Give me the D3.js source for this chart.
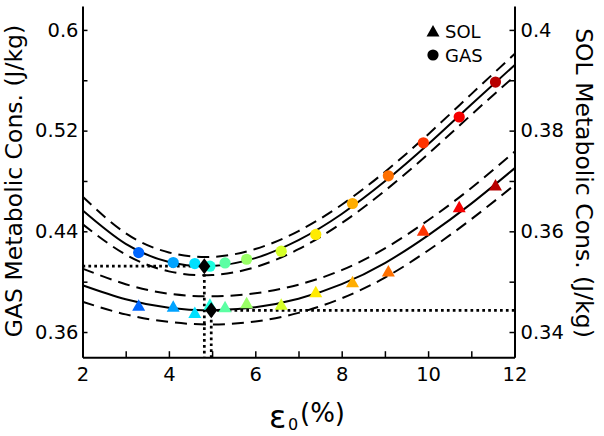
<!DOCTYPE html>
<html>
<head>
<meta charset="utf-8">
<script src="https://cdn.jsdelivr.net/npm/d3@7"></script>
<style>
  body { margin: 0; background: #fff; }
  svg { font-family: "DejaVu Sans", sans-serif; }
</style>
</head>
<body>
<svg id="chart" width="604" height="436"></svg>
<script>
// measured points (tendon strain %, metabolic cost J/kg)
const strain = [3.3, 4.1, 4.6, 4.95, 5.3, 5.8, 6.6, 7.4, 8.25, 9.08, 9.89, 10.72, 11.56];
const gasCost = [0.4231, 0.4152, 0.4144, 0.4123, 0.4149, 0.4178, 0.4242, 0.4375, 0.4621, 0.4841, 0.5103, 0.5308, 0.5586];
const solCost = [0.3453, 0.3451, 0.3439, 0.3455, 0.3450, 0.3458, 0.3455, 0.3480, 0.3500, 0.3521, 0.3602, 0.3649, 0.3692];

// fitted curves and bands
const fitStrain = [2, 3, 4, 5, 6, 7, 8, 9, 10, 11, 12];
const gasFit   = [0.4567, 0.4300, 0.4157, 0.4125, 0.4187, 0.4330, 0.4538, 0.4797, 0.5092, 0.5408, 0.5720];
const gasUpper = [0.4677, 0.4385, 0.4232, 0.4197, 0.4259, 0.4402, 0.4611, 0.4872, 0.5170, 0.5490, 0.5808];
const gasLower = [0.4457, 0.4215, 0.4082, 0.4053, 0.4115, 0.4258, 0.4465, 0.4722, 0.5014, 0.5326, 0.5632];
const solFit   = [0.3493, 0.3465, 0.3448, 0.3443, 0.3449, 0.3466, 0.3495, 0.3537, 0.3592, 0.3655, 0.3725];
const solUpper = [0.3526, 0.3495, 0.3476, 0.3471, 0.3477, 0.3494, 0.3523, 0.3566, 0.3622, 0.3686, 0.3758];
const solLower = [0.3460, 0.3435, 0.3420, 0.3415, 0.3421, 0.3438, 0.3467, 0.3508, 0.3562, 0.3624, 0.3692];

// minima of the fits
const gasMin = [4.82, 0.4123];
const solMin = [4.98, 0.3443];

const xTicks = [2, 4, 6, 8, 10, 12];
const xMinor = [3, 5, 7, 9, 11];
const gasTicks = [0.36, 0.44, 0.52, 0.6];
const gasMinor = [0.40, 0.48, 0.56];
const solTicks = [0.34, 0.36, 0.38, 0.4];
const solMinor = [0.35, 0.37, 0.39];

const plotLeft = 82.5, plotRight = 514.5, plotTop = 6, plotBottom = 357.2;
const svg = d3.select("#chart");

const x = d3.scaleLinear().domain([2, 12]).range([plotLeft, plotRight]);
const yGas = d3.scaleLinear().domain([0.34, 0.619]).range([plotBottom, plotTop]);
const ySol = d3.scaleLinear().domain([0.335, 0.40475]).range([plotBottom, plotTop]);

function jet(t) {
  const c = v => Math.max(0, Math.min(1, v));
  const r = c(1.5 - Math.abs(4 * t - 3));
  const g = c(1.5 - Math.abs(4 * t - 2));
  const b = c(1.5 - Math.abs(4 * t - 1));
  return d3.rgb(r * 255, g * 255, b * 255).toString();
}
const colour = i => jet(0.225 + i * 0.06);

// axes
function styleAxis(g, fontSize) {
  g.select(".domain").attr("stroke", "#000").attr("stroke-width", 2);
  g.selectAll(".tick line").attr("stroke", "#000").attr("stroke-width", 1.5);
  g.selectAll(".tick text").attr("fill", "#000")
    .style("font-size", fontSize + "px").style("font-family", "DejaVu Sans");
}
function minorTicks(g) {
  g.select(".domain").remove();
  g.selectAll(".tick line").attr("stroke", "#000").attr("stroke-width", 1.5);
}

const xAxis = svg.append("g").attr("transform", "translate(0," + plotBottom + ")")
  .call(d3.axisBottom(x).tickValues(xTicks).tickSizeInner(-6).tickSizeOuter(0).tickPadding(10).tickFormat(d3.format("d")));
styleAxis(xAxis, 19.5);
svg.append("g").attr("transform", "translate(0," + plotBottom + ")")
  .call(d3.axisBottom(x).tickValues(xMinor).tickSizeInner(-6).tickSizeOuter(0).tickFormat(""))
  .call(minorTicks);

const yAxisL = svg.append("g").attr("transform", "translate(" + plotLeft + ",0)")
  .call(d3.axisLeft(yGas).tickValues(gasTicks).tickSizeInner(-5).tickSizeOuter(0).tickPadding(4).tickFormat(d => String(d)));
styleAxis(yAxisL, 19.5);
svg.append("g").attr("transform", "translate(" + plotLeft + ",0)")
  .call(d3.axisLeft(yGas).tickValues(gasMinor).tickSizeInner(-5).tickSizeOuter(0).tickFormat(""))
  .call(minorTicks);

const yAxisR = svg.append("g").attr("transform", "translate(" + plotRight + ",0)")
  .call(d3.axisRight(ySol).tickValues(solTicks).tickSizeInner(-5).tickSizeOuter(0).tickPadding(6).tickFormat(d => String(d)));
styleAxis(yAxisR, 19.5);
svg.append("g").attr("transform", "translate(" + plotRight + ",0)")
  .call(d3.axisRight(ySol).tickValues(solMinor).tickSizeInner(-5).tickSizeOuter(0).tickFormat(""))
  .call(minorTicks);

// axis titles
svg.append("text")
  .attr("transform", "translate(22,181) rotate(-90)")
  .attr("text-anchor", "middle")
  .style("font-size", "23.5px")
  .text("GAS Metabolic Cons. (J/kg)");
svg.append("text")
  .attr("transform", "translate(576,183) rotate(90)")
  .attr("text-anchor", "middle")
  .style("font-size", "23.5px")
  .text("SOL Metabolic Cons. (J/kg)");

const xt = svg.append("text").attr("y", 428);
xt.append("tspan").attr("x", 269).style("font-size", "32px").text("ε");
xt.append("tspan").attr("x", 288).attr("y", 430).style("font-size", "16px").text("0");
xt.append("tspan").attr("x", 300).attr("y", 421.5).style("font-size", "26px").text("(%)");

// fit curves
const plot = svg.append("g");
function drawCurve(vals, yScale, dashed) {
  const line = d3.line()
    .x((d, i) => x(fitStrain[i]))
    .y(d => yScale(d))
    .curve(d3.curveNatural);
  plot.append("path")
    .datum(vals)
    .attr("d", line)
    .attr("fill", "none")
    .attr("stroke", "#000")
    .attr("stroke-width", 2)
    .attr("stroke-dasharray", dashed ? "12,7" : null);
}
drawCurve(gasUpper, yGas, true);
drawCurve(gasLower, yGas, true);
drawCurve(gasFit, yGas, false);
drawCurve(solUpper, ySol, true);
drawCurve(solLower, ySol, true);
drawCurve(solFit, ySol, false);

// dotted guides to minima
const guide = d3.line().x(d => d[0]).y(d => d[1]);
plot.append("path")
  .attr("d", guide([[x(2), yGas(gasMin[1])], [x(gasMin[0]), yGas(gasMin[1])], [x(gasMin[0]), yGas(0.34)]]))
  .attr("fill", "none").attr("stroke", "#000").attr("stroke-width", 2.7).attr("stroke-dasharray", "2.7,3.2");
plot.append("path")
  .attr("d", guide([[x(12), ySol(solMin[1])], [x(solMin[0]), ySol(solMin[1])], [x(solMin[0]), ySol(0.335)]]))
  .attr("fill", "none").attr("stroke", "#000").attr("stroke-width", 2.7).attr("stroke-dasharray", "2.7,3.2");

// markers
const triangle = "M0,-6L6.5,5.5L-6.5,5.5Z";
const diamond = "M0,-8L6,0L0,8L-6,0Z";

plot.selectAll(".gas").data(strain).join("circle")
  .attr("class", "gas")
  .attr("cx", d => x(d))
  .attr("cy", (d, i) => yGas(gasCost[i]))
  .attr("r", 5.6)
  .attr("fill", (d, i) => colour(i));

plot.selectAll(".sol").data(strain).join("path")
  .attr("class", "sol")
  .attr("d", triangle)
  .attr("transform", (d, i) => "translate(" + x(d) + "," + ySol(solCost[i]) + ")")
  .attr("fill", (d, i) => colour(i));

plot.append("path").attr("d", diamond)
  .attr("transform", "translate(" + x(gasMin[0]) + "," + yGas(gasMin[1]) + ")")
  .attr("fill", "#000");
plot.append("path").attr("d", diamond)
  .attr("transform", "translate(" + x(solMin[0]) + "," + ySol(solMin[1]) + ")")
  .attr("fill", "#000");

// legend
const legend = svg.append("g");
legend.append("path").attr("d", triangle).attr("transform", "translate(433,31)").attr("fill", "#000");
legend.append("circle").attr("cx", 433).attr("cy", 55).attr("r", 5.6).attr("fill", "#000");
legend.append("text").attr("x", 445).attr("y", 37.5).style("font-size", "18px").text("SOL");
legend.append("text").attr("x", 445).attr("y", 62).style("font-size", "18px").text("GAS");
</script>
</body>
</html>
